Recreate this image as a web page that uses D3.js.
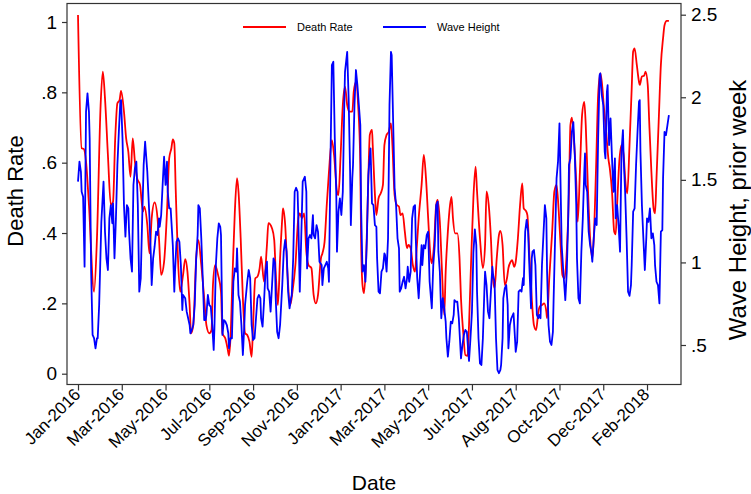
<!DOCTYPE html>
<html>
<head>
<meta charset="utf-8">
<script src="https://cdn.jsdelivr.net/npm/d3@7"></script>
<style>
  body { margin: 0; background: #fff; }
  text { font-family: "Liberation Sans", Arial, sans-serif; fill: #000; }
</style>
</head>
<body>
<div id="chart"></div>
<script>
// day offsets are counted from startDate
var startDate = "2016-01-08";

var tickDates = ["2016-01-08","2016-03-08","2016-05-07","2016-07-06","2016-09-04","2016-11-03",
  "2017-01-02","2017-03-03","2017-05-02","2017-07-01","2017-08-30","2017-10-29","2017-12-28","2018-02-26"];
var rateTicks = [0, 0.2, 0.4, 0.6, 0.8, 1];
var waveTicks = [0.5, 1, 1.5, 2, 2.5];

var deathDay = [0,5,8,11,15,22,26,31,34,37,41,45,48,51,54,57,59,63,66,69,72,75,78,81,85,89,91,95,98,101,
  105,109,111,114,118,122,125,128,130,132,134,137,140,144,147,150,153,155,158,162,165,169,173,176,180,183,185,188,192,196,
  198,202,205,207,209,212,215,218,220,223,226,229,232,235,238,240,243,246,249,251,255,259,261,266,269,271,274,277,280,281,
  284,287,291,294,298,302,304,307,310,313,316,320,323,326,329,333,335,338,341,344,348,351,355,357,360,363,366,369,372,376,
  378,381,384,387,388,390,392,395,398,400,403,404,407,409,412,415,418,420,423,426,429,431,434,437,440,442,445,448,451,453,
  456,459,462,464,467,471,474,477,480,483,485,488,491,493,496,499,502,504,507,510,512,514,517,520,523,525,528,531,534,536,
  539,542,545,547,551,555,558,560,563,566,568,571,574,577,579,582,585,588,590,593,595,598,600,603,606,609,611,614,616,619,
  622,625,628,631,633,636,639,642,643,646,650,653,656,659,662,664,667,670,673,675,677,680,683,685,688,691,694,696,699,702,
  705,707,710,713,716,718,721,724,727,729,732,735,737,739,742,745,748,750,753,756,759,761,763,766,769,770,773,776,778,781,
  783,786,789,791,793,796,799,802,804,807,810];
var deathRate = [1.02,0.641,0.639,0.603,0.48,0.233,0.386,0.764,0.859,0.783,0.622,0.48,0.489,0.669,0.769,0.778,0.804,0.745,0.669,0.631,
  0.56,0.669,0.603,0.556,0.537,0.461,0.475,0.423,0.342,0.442,0.487,0.442,0.385,0.281,0.318,0.461,0.612,0.641,0.666,0.655,
  0.52,0.328,0.233,0.281,0.326,0.29,0.195,0.115,0.138,0.328,0.38,0.309,0.214,0.138,0.115,0.124,0.252,0.309,0.281,0.233,
  0.115,0.1,0.072,0.051,0.1,0.29,0.461,0.556,0.518,0.385,0.214,0.115,0.11,0.091,0.048,0.138,0.271,0.276,0.3,0.333,
  0.262,0.366,0.428,0.413,0.38,0.29,0.195,0.328,0.442,0.47,0.423,0.29,0.195,0.233,0.309,0.442,0.456,0.442,0.456,0.347,
  0.309,0.3,0.224,0.2,0.224,0.328,0.342,0.375,0.48,0.574,0.664,0.622,0.518,0.508,0.622,0.764,0.816,0.764,0.745,0.745,
  0.802,0.83,0.764,0.593,0.385,0.252,0.229,0.328,0.556,0.679,0.693,0.65,0.51,0.451,0.499,0.513,0.537,0.65,0.679,0.688,
  0.712,0.65,0.508,0.48,0.475,0.451,0.456,0.404,0.357,0.366,0.357,0.309,0.29,0.347,0.442,0.537,0.622,0.556,0.442,0.338,
  0.314,0.366,0.48,0.494,0.432,0.29,0.167,0.29,0.404,0.48,0.503,0.442,0.399,0.399,0.328,0.214,0.119,0.053,0.051,0.138,
  0.328,0.499,0.589,0.518,0.385,0.3,0.366,0.518,0.48,0.385,0.29,0.243,0.328,0.394,0.406,0.366,0.252,0.271,0.3,0.318,
  0.323,0.304,0.318,0.385,0.48,0.541,0.47,0.463,0.451,0.328,0.214,0.138,0.124,0.176,0.191,0.195,0.2,0.176,0.158,0.271,
  0.404,0.518,0.537,0.461,0.347,0.281,0.271,0.347,0.518,0.707,0.728,0.66,0.546,0.432,0.574,0.736,0.773,0.707,0.527,0.385,
  0.328,0.385,0.574,0.792,0.854,0.83,0.755,0.688,0.612,0.584,0.518,0.404,0.396,0.48,0.603,0.65,0.622,0.556,0.513,0.65,
  0.811,0.916,0.925,0.878,0.83,0.821,0.845,0.847,0.859,0.821,0.717,0.574,0.47,0.456,0.556,0.717,0.878,0.954,0.991,1.003,
  1.003];

var waveDay = [0,2,4,5,7,9,11,13,15,16,18,20,22,24,26,27,29,32,35,37,39,41,43,45,47,48,50,52,54,56,
  58,59,61,63,65,67,69,70,72,74,76,78,80,82,84,86,88,90,92,95,98,100,101,103,105,107,109,111,112,114,
  116,118,120,122,123,125,127,130,132,133,135,137,139,141,143,144,147,149,151,153,154,156,158,160,162,164,165,167,169,171,
  173,175,176,178,180,182,184,186,187,189,191,193,195,196,198,200,202,204,206,207,209,211,213,215,217,218,220,222,224,226,
  228,229,232,234,236,238,240,242,244,246,248,250,251,253,255,257,259,260,262,264,266,268,270,271,273,275,277,280,282,284,
  286,288,290,292,293,295,297,299,301,302,304,306,308,311,313,314,316,318,320,322,323,325,327,329,331,334,335,337,339,341,
  343,344,346,348,350,352,354,355,357,359,361,363,365,366,369,371,373,374,376,377,379,381,383,385,387,388,390,392,394,396,
  398,399,401,403,405,407,409,410,412,414,416,418,420,421,423,425,427,429,430,432,434,436,438,440,441,443,445,447,449,451,
  452,454,456,458,460,462,463,465,467,469,471,472,474,476,478,480,482,485,487,489,491,493,494,496,498,500,502,504,505,507,
  509,511,513,515,516,518,520,522,524,525,527,529,531,533,535,536,538,540,542,544,546,547,549,551,553,555,557,558,560,562,
  564,566,568,569,571,573,575,577,579,580,582,583,585,587,589,590,592,594,597,599,600,602,604,606,608,610,611,613,615,617,
  619,621,622,623,625,627,629,631,632,634,636,638,640,642,643,645,647,649,651,652,654,656,658,660,662,663,665,668,670,672,
  673,675,677,679,681,683,684,686,688,690,692,694,695,696,698,700,702,704,705,707,709,711,713,715,716,718,720,722,723,725,
  726,728,730,732,734,736,737,739,741,743,745,747,748,750,752,754,756,758,759,761,763,765,767,769,770,771,773,775,777,779,
  780,782,784,786,788,790,791,793,795,797,799,801,802,804,806,808,810];
var waveHeight = [1.489,1.61,1.549,1.428,1.398,0.974,1.912,2.024,1.912,1.751,0.944,0.561,0.541,0.48,0.541,0.541,0.742,1.246,1.489,1.186,
  1.025,0.954,1.267,1.347,1.237,1.358,1.025,1.267,1.59,1.791,1.973,1.983,1.751,1.347,1.156,1.347,1.327,1.186,1.025,0.944,
  1.469,1.57,1.61,1.347,0.823,0.904,1.267,1.59,1.731,1.549,1.267,1.025,0.863,1.025,1.095,1.186,1.166,1.267,1.216,1.287,
  1.469,1.64,1.469,1.61,1.428,1.327,1.327,1.1,0.823,0.944,1.125,1.146,1.125,0.984,0.712,0.803,0.783,0.702,0.662,0.621,
  0.571,0.591,0.621,0.742,1.025,1.166,1.347,1.327,1.146,0.904,0.651,0.651,0.682,0.803,0.742,0.732,0.621,0.47,0.601,0.984,
  1.146,1.237,1.216,1.166,0.561,0.651,0.641,0.621,0.571,0.48,0.541,0.541,0.883,0.964,0.944,1.085,0.803,0.762,0.621,0.439,
  0.621,0.742,0.883,0.954,0.904,0.621,0.53,0.541,0.662,0.783,0.803,0.783,0.662,0.611,0.762,0.944,1.004,0.843,0.823,0.702,
  0.863,1.025,1.0,0.783,0.58,0.541,0.621,0.863,1.065,1.136,1.065,0.823,0.722,0.783,0.803,1.025,1.428,1.452,1.428,1.267,
  0.823,1.146,1.489,1.519,1.428,0.964,1.146,1.166,1.146,1.287,1.166,1.146,1.226,1.186,1.004,0.984,0.863,0.964,0.984,1.004,
  0.964,0.883,1.59,2.195,2.215,1.751,1.428,1.065,1.307,1.388,1.287,1.428,1.953,2.154,2.275,1.993,1.549,1.226,1.509,1.59,
  1.953,2.165,2.074,1.953,1.832,1.347,0.944,0.984,0.883,1.146,1.529,1.59,1.691,1.357,1.347,1.226,1.216,1.025,0.823,0.813,
  0.944,0.964,1.055,1.045,0.944,1.146,1.953,2.275,2.255,1.852,1.449,1.347,1.146,1.085,0.823,0.843,0.883,0.913,0.843,0.904,
  0.974,0.883,0.944,1.267,1.337,1.347,1.146,0.904,0.783,0.944,1.105,0.984,1.105,1.085,1.166,1.186,0.883,0.722,0.984,1.105,
  1.347,1.368,1.065,0.944,0.662,0.783,0.722,0.641,0.541,0.429,0.52,0.641,0.631,0.682,0.772,0.762,0.762,0.662,0.5,0.419,
  0.5,0.561,0.591,0.58,0.459,0.403,0.541,0.7,1.06,1.2,1.105,0.823,0.541,0.389,0.379,0.541,0.823,0.944,0.863,0.702,
  0.662,0.823,0.974,0.924,0.883,0.541,0.349,0.329,0.349,0.379,0.541,0.783,0.843,0.863,0.742,0.48,0.621,0.662,0.692,0.541,
  0.459,0.52,0.823,0.833,0.823,0.904,0.863,1.186,1.257,1.186,0.944,0.722,1.025,1.065,1.075,0.984,0.682,0.662,0.682,0.662,
  0.984,1.166,1.347,1.267,0.944,0.621,0.52,0.5,0.58,0.783,1.146,1.509,1.61,1.842,1.347,1.105,0.964,0.772,0.944,1.267,
  1.59,1.63,1.79,1.85,1.65,1.347,1.025,0.783,0.752,1.065,1.267,1.549,1.66,1.469,1.428,1.186,1.105,1.055,1.004,1.146,
  1.267,1.226,1.751,2.134,2.145,2.013,1.953,1.67,1.63,2.033,2.074,1.711,1.872,1.63,1.428,1.63,1.267,1.347,1.226,1.065,
  1.67,1.801,1.63,1.428,1.146,0.823,0.798,0.863,0.984,1.307,1.327,1.59,1.791,1.973,1.983,1.67,1.347,1.146,0.954,1.146,
  1.267,1.246,1.327,1.146,1.176,1.105,0.984,0.883,0.863,0.752,1.186,1.196,1.509,1.791,1.771,1.832,1.892];

var W = 751, H = 494;
var plot = {left: 67, right: 681, top: 3.5, bottom: 384.5};

var svg = d3.select("#chart").append("svg")
  .attr("width", W).attr("height", H);

var parse = d3.utcParse("%Y-%m-%d");
var t0 = parse(startDate);
function dayDate(n) { return d3.utcDay.offset(t0, n); }

var x = d3.scaleUtc()
  .domain([d3.utcHour.offset(t0, -15 * 24 - 2), d3.utcHour.offset(t0, 826 * 24 + 14)])
  .range([plot.left, plot.right]);
var yRate = d3.scaleLinear().domain([0, 1]).range([373.7, 22]);
var yWave = d3.scaleLinear().domain([0.5, 2.5]).range([345, 14.7]);

svg.append("defs").append("clipPath").attr("id", "clip")
  .append("rect")
  .attr("x", plot.left).attr("y", plot.top)
  .attr("width", plot.right - plot.left).attr("height", plot.bottom - plot.top);

// lines
var death = deathDay.map(function(d, i){ return {date: dayDate(d), v: deathRate[i]}; });
var wave = waveDay.map(function(d, i){ return {date: dayDate(d), v: waveHeight[i]}; });

var lines = svg.append("g").attr("clip-path", "url(#clip)");
lines.append("path").datum(death)
  .attr("fill", "none").attr("stroke", "#ff0000").attr("stroke-width", 1.8)
  .attr("stroke-linejoin", "round")
  .attr("d", d3.line().curve(d3.curveMonotoneX)
    .x(function(d){ return x(d.date); }).y(function(d){ return yRate(d.v); }));
lines.append("path").datum(wave)
  .attr("fill", "none").attr("stroke", "#0000ff").attr("stroke-width", 1.8)
  .attr("stroke-linejoin", "round")
  .attr("d", d3.line()
    .x(function(d){ return x(d.date); }).y(function(d){ return yWave(d.v); }));

// plot frame
svg.append("rect")
  .attr("x", plot.left).attr("y", plot.top)
  .attr("width", plot.right - plot.left).attr("height", plot.bottom - plot.top)
  .attr("fill", "none").attr("stroke", "#333").attr("stroke-width", 1.2);

function fmtNum(v){ return String(v).replace(/^0\./, "."); }

// left axis
var gl = svg.append("g").attr("transform", "translate(" + plot.left + ",0)")
  .call(d3.axisLeft(yRate).tickValues(rateTicks).tickSize(5).tickPadding(5).tickFormat(fmtNum));
// right axis
var gr = svg.append("g").attr("transform", "translate(" + plot.right + ",0)")
  .call(d3.axisRight(yWave).tickValues(waveTicks).tickSize(5).tickPadding(5).tickFormat(fmtNum));
// bottom axis
var fmtDate = d3.utcFormat("%b-%Y");
var gb = svg.append("g").attr("transform", "translate(0," + plot.bottom + ")")
  .call(d3.axisBottom(x).tickValues(tickDates.map(parse)).tickSize(6).tickFormat(fmtDate));

[gl, gr, gb].forEach(function(g){
  g.select(".domain").remove();
  g.selectAll(".tick line").attr("stroke", "#333").attr("stroke-width", 1.2);
  g.selectAll("text").attr("font-size", 19).attr("font-family", "Liberation Sans, Arial, sans-serif").attr("fill", "#000");
});
gb.selectAll("text").attr("font-size", 17);

gb.selectAll(".tick text")
  .attr("text-anchor", "end")
  .attr("dx", 0).attr("dy", 0).attr("y", 0).attr("x", 0)
  .attr("transform", "translate(3,11) rotate(-45)");

// axis titles
svg.append("text")
  .attr("transform", "translate(23,191) rotate(-90)")
  .attr("text-anchor", "middle").attr("font-size", 22).text("Death Rate");
svg.append("text")
  .attr("transform", "translate(746,210) rotate(-90)")
  .attr("text-anchor", "middle").attr("font-size", 24).text("Wave Height, prior week");
svg.append("text")
  .attr("x", 374).attr("y", 490)
  .attr("text-anchor", "middle").attr("font-size", 21).text("Date");

// legend
var legend = [{label: "Death Rate", color: "#ff0000", x: 243}, {label: "Wave Height", color: "#0000ff", x: 383}];
legend.forEach(function(d){
  svg.append("line").attr("x1", d.x).attr("x2", d.x + 43).attr("y1", 27).attr("y2", 27)
    .attr("stroke", d.color).attr("stroke-width", 1.8);
  svg.append("text").attr("x", d.x + 54).attr("y", 31).attr("font-size", 11).text(d.label);
});
</script>
</body>
</html>
